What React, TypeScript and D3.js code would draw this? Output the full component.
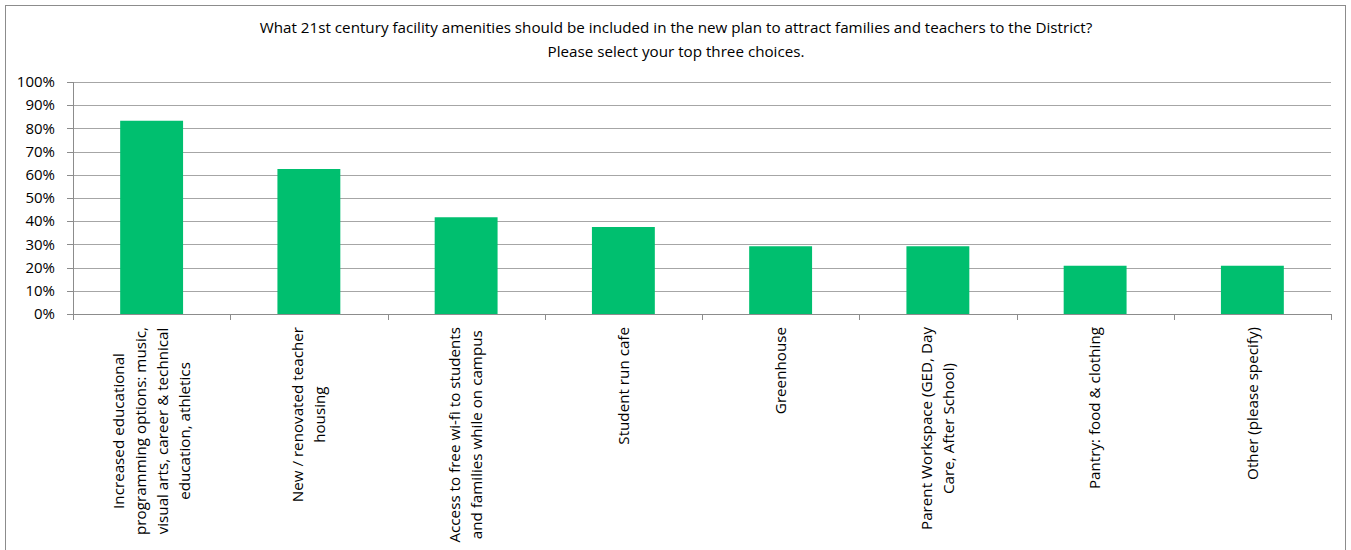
import React, { useEffect, useRef } from "react";
import * as d3 from "d3";

const categories: string[][] = [
  ["Increased educational", "programming options: music,", "visual arts, career & technical", "education, athletics"],
  ["New / renovated teacher", "housing"],
  ["Access to free wi-fi to students", "and families while on campus"],
  ["Student run cafe"],
  ["Greenhouse"],
  ["Parent Workspace (GED, Day", "Care, After School)"],
  ["Pantry: food & clothing"],
  ["Other (please specify)"],
];
const values: number[] = [0.833, 0.625, 0.417, 0.375, 0.292, 0.292, 0.208, 0.208];
const yTicks: number[] = [0, 0.1, 0.2, 0.3, 0.4, 0.5, 0.6, 0.7, 0.8, 0.9, 1.0];
const titleLines: string[] = [
  "What 21st century facility amenities should be included in the new plan to attract families and teachers to the District?",
  "Please select your top three choices.",
];

const W = 1351;
const H = 550;
const FONT = "'Segoe UI', 'Open Sans', sans-serif";

export default function App() {
  const ref = useRef<SVGSVGElement | null>(null);

  useEffect(() => {
    const svg = d3.select(ref.current);
    svg.selectAll("*").remove();

    const left = 73, right = 1331, top = 82, bottom = 314;
    const x = d3.scaleBand<number>().domain(d3.range(categories.length)).range([left, right]).paddingInner(0.6).paddingOuter(0.3);
    const xb = d3.scaleBand<number>().domain(d3.range(categories.length)).range([left, right]);
    const y = d3.scaleLinear().domain([0, 1]).range([bottom, top]);

    svg.append("rect").attr("x", 5.5).attr("y", 5.5).attr("width", 1340).attr("height", 600)
      .attr("fill", "#fff").attr("stroke", "#8c8c8c").attr("stroke-width", 1);

    // title
    const t = svg.append("text").attr("font-family", FONT).attr("font-size", 15.2).attr("fill", "#000").attr("text-anchor", "middle");
    titleLines.forEach((l, i) => t.append("tspan").attr("x", 676).attr("y", 33 + i * 24).text(l));

    // gridlines
    svg.append("g").selectAll("line").data(yTicks.slice(1)).join("line")
      .attr("x1", left).attr("x2", right)
      .attr("y1", (d) => Math.round(y(d)) + 0.5).attr("y2", (d) => Math.round(y(d)) + 0.5)
      .attr("stroke", "#a6a6a6").attr("stroke-width", 1);

    // bars
    svg.append("g").selectAll("rect").data(values).join("rect")
      .attr("x", (_d, i) => x(i)!).attr("width", x.bandwidth())
      .attr("y", (d) => y(d)).attr("height", (d) => bottom - y(d))
      .attr("fill", "#00bf6f");

    // y axis
    svg.append("line").attr("x1", left + 0.5).attr("x2", left + 0.5).attr("y1", top).attr("y2", bottom + 6).attr("stroke", "#8c8c8c");
    svg.append("g").selectAll("line").data(yTicks).join("line")
      .attr("x1", left - 6).attr("x2", left)
      .attr("y1", (d) => Math.round(y(d)) + 0.5).attr("y2", (d) => Math.round(y(d)) + 0.5)
      .attr("stroke", "#8c8c8c");
    svg.append("g").selectAll("text").data(yTicks).join("text")
      .attr("x", left - 18).attr("y", (d) => y(d)).attr("dy", "0.35em")
      .attr("text-anchor", "end").attr("font-family", FONT).attr("font-size", 15).attr("fill", "#000")
      .text((d) => d3.format(".0%")(d));

    // x axis
    svg.append("line").attr("x1", left).attr("x2", right + 1).attr("y1", bottom + 0.5).attr("y2", bottom + 0.5).attr("stroke", "#8c8c8c");
    const bounds = d3.range(categories.length + 1).map((i) => (i < categories.length ? xb(i)! : right));
    svg.append("g").selectAll("line").data(bounds).join("line")
      .attr("x1", (d) => Math.round(d) + 0.5).attr("x2", (d) => Math.round(d) + 0.5)
      .attr("y1", bottom).attr("y2", bottom + 6).attr("stroke", "#8c8c8c");

    // x labels
    const lineH = 22;
    categories.forEach((lines, i) => {
      const cx = xb(i)! + xb.bandwidth() / 2;
      const g = svg.append("g");
      const txt = g.append("text").attr("font-family", FONT).attr("font-size", 15.2).attr("fill", "#000").attr("text-anchor", "middle");
      lines.forEach((l) => txt.append("tspan").text(l));
      let maxW = 0;
      txt.selectAll<SVGTSpanElement, unknown>("tspan").each(function () {
        maxW = Math.max(maxW, this.getComputedTextLength());
      });
      const cy = bottom + 13 + maxW / 2;
      const n = lines.length;
      txt.attr("transform", `translate(${cx},${cy}) rotate(-90)`);
      txt.selectAll("tspan").attr("x", 0).attr("y", (_d, k) => (k - (n - 1) / 2) * lineH).attr("dy", "0.35em");
    });
  }, []);

  return (
    <svg ref={ref} width={W} height={H} style={{ position: "absolute", left: 0, top: 0, background: "#fff" }} />
  );
}
